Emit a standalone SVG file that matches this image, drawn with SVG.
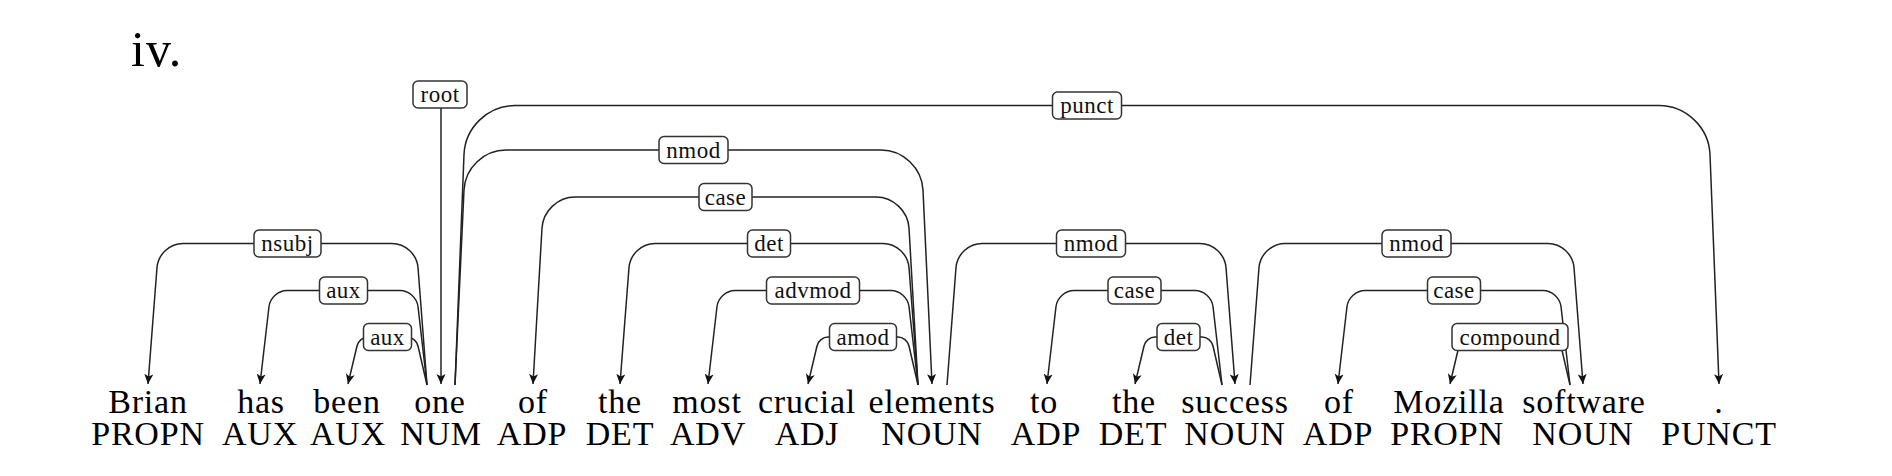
<svg xmlns="http://www.w3.org/2000/svg" width="1892" height="476" viewBox="0 0 1892 476">
<style>
.w{font-family:"Liberation Serif","Times New Roman",serif;font-size:34px;letter-spacing:0.8px;fill:#000;text-anchor:middle}
.lb{font-family:"Liberation Serif","Times New Roman",serif;font-size:23px;letter-spacing:0.5px;fill:#111;text-anchor:middle;dominant-baseline:central}
.box{fill:#fff;stroke:#333;stroke-width:1.5}
.e{fill:none;stroke:#222;stroke-width:1.5;marker-end:url(#arr)}
</style>
<defs>
<marker id="arr" markerUnits="userSpaceOnUse" viewBox="0 0 10 10" refX="10" refY="5" markerWidth="10" markerHeight="10" orient="auto">
<path d="M0,0.5 L10,5 L0,9.5 L2.5,5 Z" fill="#111"/>
</marker>
</defs>
<rect width="1892" height="476" fill="#fff"/>
<text x="131" y="66" font-family="Liberation Serif, serif" font-size="50" letter-spacing="1">iv.</text>

<g id="connectors">
<path class="e" d="M441,108 L441,384"/>
<path class="e" d="M427,385 L418,267.5 C416.9,254.3 405.2,243.5 392,243.5 L183,243.5 C169.8,243.5 158.1,254.3 157,267.5 L148,384"/>
<path class="e" d="M427,385 L418,306.5 C416.9,297.7 408.8,290.5 400,290.5 L287,290.5 C278.2,290.5 270.1,297.7 269,306.5 L260,384"/>
<path class="e" d="M427,385 L418,346 C416.9,341 412,337 407,337 L368,337 C363,337 358.1,341 357,346 L348,384"/>
<path class="e" d="M455,385 L464,154.5 C465.1,127.5 488,105.5 515,105.5 L1659,105.5 C1686,105.5 1708.9,127.5 1710,154.5 L1719,384"/>
<path class="e" d="M455,385 L464,190 C465.1,167.9 483.9,150 506,150 L881,150 C903.1,150 921.9,167.9 923,190 L932,384"/>
<path class="e" d="M918,385 L909,228 C907.9,210.9 893.1,197 876,197 L575,197 C557.9,197 543.1,210.9 542,228 L533,384"/>
<path class="e" d="M918,385 L909,267.5 C907.9,254.3 896.2,243.5 883,243.5 L655,243.5 C641.8,243.5 630.1,254.3 629,267.5 L620,384"/>
<path class="e" d="M918,385 L909,306.5 C907.9,297.7 899.8,290.5 891,290.5 L735,290.5 C726.2,290.5 718.1,297.7 717,306.5 L708,384"/>
<path class="e" d="M918,385 L909,346 C907.9,341 903,337 898,337 L828,337 C823,337 818.1,341 817,346 L808,384"/>
<path class="e" d="M947,385 L956,267.5 C957.1,254.3 968.8,243.5 982,243.5 L1200,243.5 C1213.2,243.5 1224.9,254.3 1226,267.5 L1235,384"/>
<path class="e" d="M1222,385 L1213,306.5 C1211.9,297.7 1203.8,290.5 1195,290.5 L1074,290.5 C1065.2,290.5 1057.1,297.7 1056,306.5 L1047,384"/>
<path class="e" d="M1222,385 L1213,346 C1211.9,341 1207,337 1202,337 L1155,337 C1150,337 1145.1,341 1144,346 L1135,384"/>
<path class="e" d="M1250,385 L1259,267.5 C1260.1,254.3 1271.8,243.5 1285,243.5 L1548,243.5 C1561.2,243.5 1572.9,254.3 1574,267.5 L1583,384"/>
<path class="e" d="M1570,385 L1561,306.5 C1559.9,297.7 1551.8,290.5 1543,290.5 L1365,290.5 C1356.2,290.5 1348.1,297.7 1347,306.5 L1338,384"/>
<path class="e" d="M1570,385 L1561,346 C1559.9,341 1555,337 1550,337 L1470,337 C1465,337 1460.1,341 1459,346 L1450,384"/>
</g>

<g id="labels">
<g id="lab-root"><rect class="box" x="413" y="81" width="54" height="27" rx="5"/><text class="lb" x="440" y="94.5">root</text></g>
<g id="lab-nsubj"><rect class="box" x="254" y="230" width="67" height="27" rx="5"/><text class="lb" x="287.5" y="243.5">nsubj</text></g>
<g id="lab-aux1"><rect class="box" x="319.5" y="277" width="48" height="27" rx="5"/><text class="lb" x="343.5" y="290.5">aux</text></g>
<g id="lab-aux2"><rect class="box" x="363.5" y="323.5" width="48" height="27" rx="5"/><text class="lb" x="387.5" y="337">aux</text></g>
<g id="lab-punct"><rect class="box" x="1052.5" y="92" width="69" height="27" rx="5"/><text class="lb" x="1087" y="105.5">punct</text></g>
<g id="lab-nmod1"><rect class="box" x="659" y="136.5" width="69" height="27" rx="5"/><text class="lb" x="693.5" y="150">nmod</text></g>
<g id="lab-case1"><rect class="box" x="699" y="183.5" width="53" height="27" rx="5"/><text class="lb" x="725.5" y="197">case</text></g>
<g id="lab-det1"><rect class="box" x="747.5" y="230" width="43" height="27" rx="5"/><text class="lb" x="769" y="243.5">det</text></g>
<g id="lab-advmod"><rect class="box" x="766.5" y="277" width="93" height="27" rx="5"/><text class="lb" x="813" y="290.5">advmod</text></g>
<g id="lab-amod"><rect class="box" x="829.5" y="323.5" width="67" height="27" rx="5"/><text class="lb" x="863" y="337">amod</text></g>
<g id="lab-nmod2"><rect class="box" x="1056.5" y="230" width="69" height="27" rx="5"/><text class="lb" x="1091" y="243.5">nmod</text></g>
<g id="lab-case2"><rect class="box" x="1108" y="277" width="53" height="27" rx="5"/><text class="lb" x="1134.5" y="290.5">case</text></g>
<g id="lab-det2"><rect class="box" x="1157" y="323.5" width="43" height="27" rx="5"/><text class="lb" x="1178.5" y="337">det</text></g>
<g id="lab-nmod3"><rect class="box" x="1382" y="230" width="69" height="27" rx="5"/><text class="lb" x="1416.5" y="243.5">nmod</text></g>
<g id="lab-case3"><rect class="box" x="1427.5" y="277" width="53" height="27" rx="5"/><text class="lb" x="1454" y="290.5">case</text></g>
<g id="lab-compound"><rect class="box" x="1452" y="323.5" width="116" height="27" rx="5"/><text class="lb" x="1510" y="337">compound</text></g>
</g>

<g id="w1"><text class="w" x="148" y="413">Brian</text><text class="w" x="148" y="445">PROPN</text></g>
<g id="w2"><text class="w" x="261" y="413">has</text><text class="w" x="260" y="445">AUX</text></g>
<g id="w3"><text class="w" x="347" y="413">been</text><text class="w" x="348" y="445">AUX</text></g>
<g id="w4"><text class="w" x="440" y="413">one</text><text class="w" x="441" y="445">NUM</text></g>
<g id="w5"><text class="w" x="533" y="413">of</text><text class="w" x="532" y="445">ADP</text></g>
<g id="w6"><text class="w" x="620" y="413">the</text><text class="w" x="620" y="445">DET</text></g>
<g id="w7"><text class="w" x="707" y="413">most</text><text class="w" x="708" y="445">ADV</text></g>
<g id="w8"><text class="w" x="807" y="413">crucial</text><text class="w" x="807" y="445">ADJ</text></g>
<g id="w9"><text class="w" x="932" y="413">elements</text><text class="w" x="932" y="445">NOUN</text></g>
<g id="w10"><text class="w" x="1044" y="413">to</text><text class="w" x="1046" y="445">ADP</text></g>
<g id="w11"><text class="w" x="1134" y="413">the</text><text class="w" x="1133" y="445">DET</text></g>
<g id="w12"><text class="w" x="1235" y="413">success</text><text class="w" x="1235" y="445">NOUN</text></g>
<g id="w13"><text class="w" x="1339" y="413">of</text><text class="w" x="1338" y="445">ADP</text></g>
<g id="w14"><text class="w" x="1449" y="413">Mozilla</text><text class="w" x="1447" y="445">PROPN</text></g>
<g id="w15"><text class="w" x="1584" y="413">software</text><text class="w" x="1583" y="445">NOUN</text></g>
<g id="w16"><text class="w" x="1719" y="413">.</text><text class="w" x="1719" y="445">PUNCT</text></g>
</svg>
